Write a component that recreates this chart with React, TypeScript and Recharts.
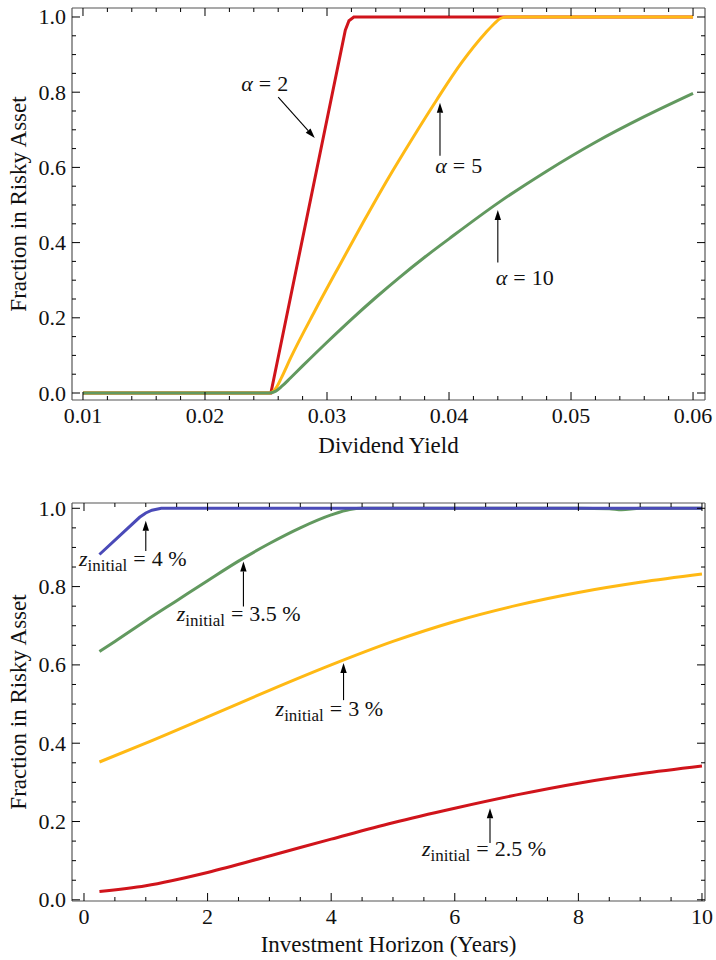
import { LineChart, Line, XAxis, YAxis, ReferenceLine, ReferenceDot } from "recharts";

const FONT = "Liberation Serif, DejaVu Serif, Times New Roman, serif";
const FRAME = "#555555";
const RED = "#d0141b";
const GOLD = "#ffb914";
const GREEN = "#62995f";
const BLUE = "#4a4ab8";

// top panel: fraction in risky asset vs dividend yield
const alpha2X = [0.01, 0.0254, 0.0315, 0.0318, 0.0322, 0.035, 0.04, 0.045, 0.05, 0.055, 0.06];
const alpha2Y = [0, 0, 0.965, 0.99, 1, 1, 1, 1, 1, 1, 1];
const alpha5X = [0.01, 0.0253, 0.0258, 0.0263, 0.027, 0.029, 0.031, 0.033, 0.035, 0.037, 0.039, 0.041, 0.043, 0.0437, 0.0442, 0.0447, 0.05, 0.055, 0.06];
const alpha5Y = [0, 0, 0.012, 0.043, 0.092, 0.218, 0.338, 0.456, 0.57, 0.677, 0.78, 0.877, 0.958, 0.982, 0.996, 1, 1, 1, 1];
const alpha10X = [0.01, 0.0253, 0.0258, 0.0263, 0.027, 0.028, 0.03, 0.032, 0.034, 0.036, 0.038, 0.04, 0.044, 0.048, 0.052, 0.056, 0.06];
const alpha10Y = [0, 0, 0.005, 0.018, 0.04, 0.072, 0.135, 0.196, 0.254, 0.309, 0.361, 0.41, 0.505, 0.59, 0.667, 0.735, 0.797];

const alphaLabels = ["2", "5", "10"];
const alphaLabelAt = [
  { x: 0.0249, y: 0.803 },
  { x: 0.0408, y: 0.584 },
  { x: 0.0462, y: 0.287 },
];
const alphaArrows = [
  [{ x: 0.026, y: 0.787 }, { x: 0.029, y: 0.678 }],
  [{ x: 0.03926, y: 0.631 }, { x: 0.03926, y: 0.772 }],
  [{ x: 0.044, y: 0.347 }, { x: 0.044, y: 0.487 }],
];

const yieldTicks = [0.01, 0.02, 0.03, 0.04, 0.05, 0.06];
const yieldTickLabels = ["0.01", "0.02", "0.03", "0.04", "0.05", "0.06"];

// bottom panel: fraction in risky asset vs horizon
const z4X = [0.25, 0.9, 1.0, 1.1, 1.25, 2, 4, 6, 8, 10];
const z4Y = [0.882, 0.977, 0.988, 0.995, 1, 1, 1, 1, 1, 1];
const z35X = [0.25, 0.5, 1, 1.5, 2, 2.5, 3, 3.5, 4, 4.3, 4.5, 6, 8, 8.5, 8.7, 9, 10];
const z35Y = [0.634, 0.66, 0.713, 0.764, 0.815, 0.865, 0.91, 0.95, 0.983, 0.997, 1, 1, 1, 0.999, 0.996, 1, 1];
const z3X = [0.25, 1, 2, 3, 4, 5, 6, 7, 8, 9, 10];
const z3Y = [0.352, 0.4, 0.467, 0.535, 0.6, 0.66, 0.711, 0.752, 0.785, 0.811, 0.832];
const z25X = [0.25, 1, 2, 3, 4, 5, 6, 7, 8, 9, 10];
const z25Y = [0.021, 0.036, 0.07, 0.112, 0.155, 0.197, 0.234, 0.268, 0.298, 0.322, 0.342];

const zLabels = ["4 %", "3.5 %", "3 %", "2.5 %"];
const zLabelAt = [
  { x: -0.08, y: 0.853 },
  { x: 1.5, y: 0.713 },
  { x: 3.1, y: 0.47 },
  { x: 5.47, y: 0.112 },
];
const zArrows = [
  [{ x: 1.0, y: 0.891 }, { x: 1.0, y: 0.968 }],
  [{ x: 2.58, y: 0.749 }, { x: 2.58, y: 0.864 }],
  [{ x: 4.2, y: 0.51 }, { x: 4.2, y: 0.605 }],
  [{ x: 6.57, y: 0.145 }, { x: 6.57, y: 0.234 }],
];

const horizonTicks = [0, 2, 4, 6, 8, 10];
const horizonTickLabels = ["0", "2", "4", "6", "8", "10"];

const fracTicks = [0, 0.2, 0.4, 0.6, 0.8, 1.0];
const fracTickLabels = ["0.0", "0.2", "0.4", "0.6", "0.8", "1.0"];

const zip = (xs: number[], ys: number[]) => xs.map((x, i) => ({ x, y: ys[i] }));

function steps(lo: number, hi: number, step: number) {
  const out: number[] = [];
  for (let i = 0; lo + i * step <= hi + 1e-9; i++) out.push(+(lo + i * step).toFixed(6));
  return out;
}

const txt = { fontFamily: FONT, fill: "#111" };

type Side = "bottom" | "top" | "left" | "right";

function makeTick(side: Side, majors: number[], labels: string[]) {
  return (props: any) => {
    const { x, y, payload } = props;
    const idx = majors.findIndex((m) => Math.abs(m - payload.value) < 1e-9);
    const len = idx >= 0 ? 8 : 4;
    let line;
    if (side === "bottom") line = <line x1={x} y1={y} x2={x} y2={y - len} stroke="#000" />;
    else if (side === "top") line = <line x1={x} y1={y} x2={x} y2={y + len} stroke="#000" />;
    else if (side === "left") line = <line x1={x} y1={y} x2={x + len} y2={y} stroke="#000" />;
    else line = <line x1={x} y1={y} x2={x - len} y2={y} stroke="#000" />;
    let label = null;
    if (idx >= 0 && side === "bottom") {
      label = (
        <text x={x} y={y + 23} textAnchor="middle" fontSize={22} style={txt}>
          {labels[idx]}
        </text>
      );
    } else if (idx >= 0 && side === "left") {
      label = (
        <text x={x - 6} y={y + 7.5} textAnchor="end" fontSize={22} style={txt}>
          {labels[idx]}
        </text>
      );
    }
    return (
      <g>
        {line}
        {label}
      </g>
    );
  };
}

function arrowShape(props: any) {
  const { x1, y1, x2, y2 } = props;
  const dx = x2 - x1;
  const dy = y2 - y1;
  const d = Math.sqrt(dx * dx + dy * dy) || 1;
  const ux = dx / d;
  const uy = dy / d;
  const hl = 10;
  const hw = 3.2;
  const bx = x2 - ux * hl;
  const by = y2 - uy * hl;
  return (
    <g>
      <line x1={x1} y1={y1} x2={bx} y2={by} stroke="#000" strokeWidth={1.1} />
      <polygon
        points={`${x2},${y2} ${bx - uy * hw},${by + ux * hw} ${bx + uy * hw},${by - ux * hw}`}
        fill="#000"
      />
    </g>
  );
}

function alphaText(value: string) {
  return (p: any) => (
    <text x={p.cx} y={p.cy} textAnchor="middle" fontSize={22} style={txt}>
      <tspan fontStyle="italic">α</tspan>
      <tspan dx={6}>=</tspan>
      <tspan dx={6}>{value}</tspan>
    </text>
  );
}

function zText(value: string) {
  return (p: any) => (
    <text x={p.cx} y={p.cy} textAnchor="start" fontSize={22} style={txt}>
      <tspan fontStyle="italic">z</tspan>
      <tspan fontSize={17} dy={5}>initial</tspan>
      <tspan dy={-5} dx={6}>=</tspan>
      <tspan dx={6}>{value}</tspan>
    </text>
  );
}

const W = 716;

export default function App() {
  const yieldAll = steps(0.01, 0.06, 0.002);
  const horizonAll = steps(0, 10, 0.5);
  const fracAll = steps(0, 1, 0.05);
  const yieldDomain = [0.0091, 0.06098];
  const horizonDomain = [-0.194, 10.049];
  const fracDomainTop = [-0.0186, 1.0239];
  const fracDomainBottom = [-0.003, 1.0135];

  const axisCommon = {
    type: "number" as const,
    allowDataOverflow: true,
    interval: 0 as const,
    tickSize: 0,
    tickMargin: 0,
    tickLine: false,
    axisLine: { stroke: FRAME, strokeWidth: 1.2 },
  };

  return (
    <div style={{ position: "absolute", left: 0, top: 0, width: W, height: 960, background: "#fff", fontFamily: FONT }}>
      <LineChart width={W} height={470} margin={{ top: 7, right: 10, left: 0, bottom: 10 }}>
        <XAxis
          {...axisCommon}
          xAxisId={0}
          dataKey="x"
          domain={yieldDomain}
          ticks={yieldAll}
          height={60}
          tick={makeTick("bottom", yieldTicks, yieldTickLabels)}
        />
        <XAxis
          {...axisCommon}
          xAxisId="top"
          orientation="top"
          dataKey="x"
          domain={yieldDomain}
          ticks={yieldAll}
          height={1}
          tick={makeTick("top", yieldTicks, yieldTickLabels)}
        />
        <YAxis
          {...axisCommon}
          yAxisId={0}
          domain={fracDomainTop}
          ticks={fracAll}
          width={72}
          tick={makeTick("left", fracTicks, fracTickLabels)}
        />
        <YAxis
          {...axisCommon}
          yAxisId="right"
          orientation="right"
          domain={fracDomainTop}
          ticks={fracAll}
          width={1}
          tick={makeTick("right", fracTicks, fracTickLabels)}
        />
        <Line data={zip(alpha2X, alpha2Y)} dataKey="y" type="linear" stroke={RED} strokeWidth={3} dot={false} isAnimationActive={false} />
        <Line data={zip(alpha5X, alpha5Y)} dataKey="y" type="monotone" stroke={GOLD} strokeWidth={3} dot={false} isAnimationActive={false} />
        <Line data={zip(alpha10X, alpha10Y)} dataKey="y" type="monotone" stroke={GREEN} strokeWidth={3} dot={false} isAnimationActive={false} />
        {alphaArrows.map((seg, i) => (
          <ReferenceLine key={"aa" + i} segment={seg} shape={arrowShape} ifOverflow="visible" />
        ))}
        {alphaLabels.map((v, i) => (
          <ReferenceDot key={"al" + i} x={alphaLabelAt[i].x} y={alphaLabelAt[i].y} shape={alphaText(v)} ifOverflow="visible" />
        ))}
        <text x={26} y={204} transform="rotate(-90 26 204)" textAnchor="middle" fontSize={23} style={txt}>
          Fraction in Risky Asset
        </text>
        <text x={388.5} y={453} textAnchor="middle" fontSize={23} style={txt}>
          Dividend Yield
        </text>
      </LineChart>

      <div style={{ position: "absolute", left: 0, top: 480 }}>
        <LineChart width={W} height={480} margin={{ top: 22, right: 10, left: 0, bottom: 10 }}>
          <XAxis
            {...axisCommon}
            xAxisId={0}
            dataKey="x"
            domain={horizonDomain}
            ticks={horizonAll}
            height={49}
            tick={makeTick("bottom", horizonTicks, horizonTickLabels)}
          />
          <XAxis
            {...axisCommon}
            xAxisId="top"
            orientation="top"
            dataKey="x"
            domain={horizonDomain}
            ticks={horizonAll}
            height={1}
            tick={makeTick("top", horizonTicks, horizonTickLabels)}
          />
          <YAxis
            {...axisCommon}
            yAxisId={0}
            domain={fracDomainBottom}
            ticks={fracAll}
            width={72}
            tick={makeTick("left", fracTicks, fracTickLabels)}
          />
          <YAxis
            {...axisCommon}
            yAxisId="right"
            orientation="right"
            domain={fracDomainBottom}
            ticks={fracAll}
            width={1}
            tick={makeTick("right", fracTicks, fracTickLabels)}
          />
          <Line data={zip(z25X, z25Y)} dataKey="y" type="monotone" stroke={RED} strokeWidth={3} dot={false} isAnimationActive={false} />
          <Line data={zip(z3X, z3Y)} dataKey="y" type="monotone" stroke={GOLD} strokeWidth={3} dot={false} isAnimationActive={false} />
          <Line data={zip(z35X, z35Y)} dataKey="y" type="monotone" stroke={GREEN} strokeWidth={3} dot={false} isAnimationActive={false} />
          <Line data={zip(z4X, z4Y)} dataKey="y" type="linear" stroke={BLUE} strokeWidth={3} dot={false} isAnimationActive={false} />
          {zArrows.map((seg, i) => (
            <ReferenceLine key={"za" + i} segment={seg} shape={arrowShape} ifOverflow="visible" />
          ))}
          {zLabels.map((v, i) => (
            <ReferenceDot key={"zl" + i} x={zLabelAt[i].x} y={zLabelAt[i].y} shape={zText(v)} ifOverflow="visible" />
          ))}
          <text x={26} y={222} transform="rotate(-90 26 222)" textAnchor="middle" fontSize={23} style={txt}>
            Fraction in Risky Asset
          </text>
          <text x={388.5} y={472} textAnchor="middle" fontSize={23} style={txt}>
            Investment Horizon (Years)
          </text>
        </LineChart>
      </div>
    </div>
  );
}
